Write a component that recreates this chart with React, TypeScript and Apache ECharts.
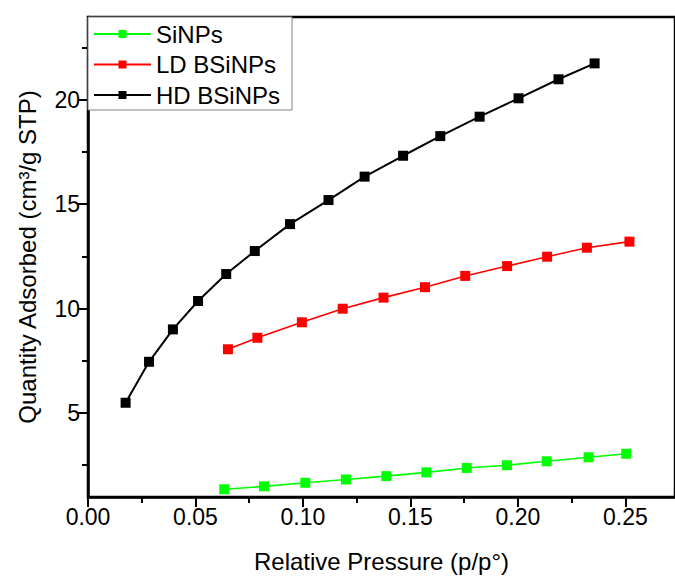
import React, { useEffect, useRef } from "react";
import * as echarts from "echarts";

// Relative pressure (p/p°) and quantity adsorbed (cm³/g STP)
const siX = [0.0634, 0.0819, 0.1011, 0.12, 0.1388, 0.1574, 0.1762, 0.1949, 0.2134, 0.2329, 0.2504];
const siY = [1.35, 1.49, 1.66, 1.82, 1.98, 2.16, 2.37, 2.5, 2.69, 2.88, 3.05];

const ldX = [0.0651, 0.0788, 0.0995, 0.1185, 0.1375, 0.1568, 0.1755, 0.195, 0.2136, 0.2321, 0.2519];
const ldY = [8.05, 8.6, 9.34, 9.99, 10.52, 11.02, 11.56, 12.03, 12.48, 12.91, 13.2];

const hdX = [0.0175, 0.0284, 0.0395, 0.0512, 0.0643, 0.0776, 0.094, 0.1119, 0.1287, 0.1466, 0.1639, 0.1822, 0.2003, 0.2189, 0.2357];
const hdY = [5.49, 7.45, 9.0, 10.36, 11.65, 12.75, 14.04, 15.19, 16.31, 17.31, 18.25, 19.18, 20.06, 20.97, 21.73];

const seriesNames = ["SiNPs", "LD BSiNPs", "HD BSiNPs"];
const seriesColors = ["#00ff00", "#ff0000", "#000000"];

const xMajorTicks = [0, 0.05, 0.1, 0.15, 0.2, 0.25];
const xMinorTicks = [0.025, 0.075, 0.125, 0.175, 0.225];
const yMajorTicks = [5, 10, 15, 20];
const yMinorTicks = [2.5, 7.5, 12.5, 17.5, 22.5];
const xRange = [0, 0.2731];
const yRange = [0.98, 23.95];

const xTitle = "Relative Pressure (p/p°)";
const yTitle = "Quantity Adsorbed (cm³/g STP)";

const FONT = "Liberation Sans, Arial, sans-serif";

function zip(xs: number[], ys: number[]) {
  return xs.map((x, i) => [x, ys[i]]);
}

export default function App() {
  const ref = useRef<HTMLDivElement>(null);
  useEffect(() => {
    if (!ref.current) return;
    const chart = echarts.init(ref.current, undefined, { renderer: "svg" });
    const gridRect = { left: 88, top: 17, width: 590, height: 480 };
    const datasets = [zip(siX, siY), zip(ldX, ldY), zip(hdX, hdY)];
    chart.setOption({
      animation: false,
      backgroundColor: "#ffffff",
      grid: [
        { ...gridRect, show: true, borderColor: "#000", borderWidth: 2.5, backgroundColor: "transparent" },
        { ...gridRect, show: false },
      ],
      xAxis: [
        {
          type: "value",
          gridIndex: 0,
          min: xRange[0],
          max: xRange[1],
          position: "bottom",
          splitLine: { show: false },
          axisLine: { show: true, lineStyle: { color: "#000", width: 2.5 } },
          axisTick: { show: true, inside: false, length: 10, customValues: xMajorTicks, lineStyle: { color: "#000", width: 2 } },
          axisLabel: {
            show: true,
            customValues: xMajorTicks,
            margin: 8,
            fontSize: 23,
            fontFamily: FONT,
            color: "#000",
            formatter: (v: number) => v.toFixed(2),
          },
          name: xTitle,
          nameLocation: "middle",
          nameGap: 52,
          nameTextStyle: { fontSize: 24, fontFamily: FONT, color: "#000" },
        },
        {
          type: "value",
          gridIndex: 1,
          min: xRange[0],
          max: xRange[1],
          position: "bottom",
          splitLine: { show: false },
          axisLine: { show: false },
          axisTick: { show: true, inside: false, length: 6, customValues: xMinorTicks, lineStyle: { color: "#000", width: 2 } },
          axisLabel: { show: false },
        },
      ],
      yAxis: [
        {
          type: "value",
          gridIndex: 0,
          min: yRange[0],
          max: yRange[1],
          position: "left",
          splitLine: { show: false },
          axisLine: { show: true, lineStyle: { color: "#000", width: 2.5 } },
          axisTick: { show: true, inside: false, length: 10, customValues: yMajorTicks, lineStyle: { color: "#000", width: 2 } },
          axisLabel: {
            show: true,
            customValues: yMajorTicks,
            margin: 8,
            fontSize: 23,
            fontFamily: FONT,
            color: "#000",
          },
          name: yTitle,
          nameLocation: "middle",
          nameGap: 49,
          nameTextStyle: { fontSize: 24, fontFamily: FONT, color: "#000" },
        },
        {
          type: "value",
          gridIndex: 1,
          min: yRange[0],
          max: yRange[1],
          position: "left",
          splitLine: { show: false },
          axisLine: { show: false },
          axisTick: { show: true, inside: false, length: 6, customValues: yMinorTicks, lineStyle: { color: "#000", width: 2 } },
          axisLabel: { show: false },
        },
      ],
      legend: {
        orient: "vertical",
        left: 88,
        top: 17,
        padding: [5, 12, 3, 5],
        itemWidth: 57,
        itemHeight: 10,
        itemGap: 6.5,
        backgroundColor: "#fff",
        borderColor: "#808080",
        borderWidth: 1,
        borderRadius: 0,
        textStyle: { fontSize: 24, fontFamily: FONT, color: "#000", lineHeight: 24 },
        data: seriesNames,
      },
      series: seriesNames.map((name, i) => ({
        name,
        type: "line",
        xAxisIndex: 0,
        yAxisIndex: 0,
        data: datasets[i],
        symbol: "rect",
        symbolSize: 10,
        showAllSymbol: true,
        color: seriesColors[i],
        itemStyle: { color: seriesColors[i] },
        lineStyle: { color: seriesColors[i], width: i === 2 ? 2 : 1.6 },
        emphasis: { disabled: true },
      })),
    });
    return () => chart.dispose();
  }, []);
  return (
    <div
      ref={ref}
      style={{ position: "fixed", left: 0, top: 0, width: 675, height: 578 }}
    />
  );
}
